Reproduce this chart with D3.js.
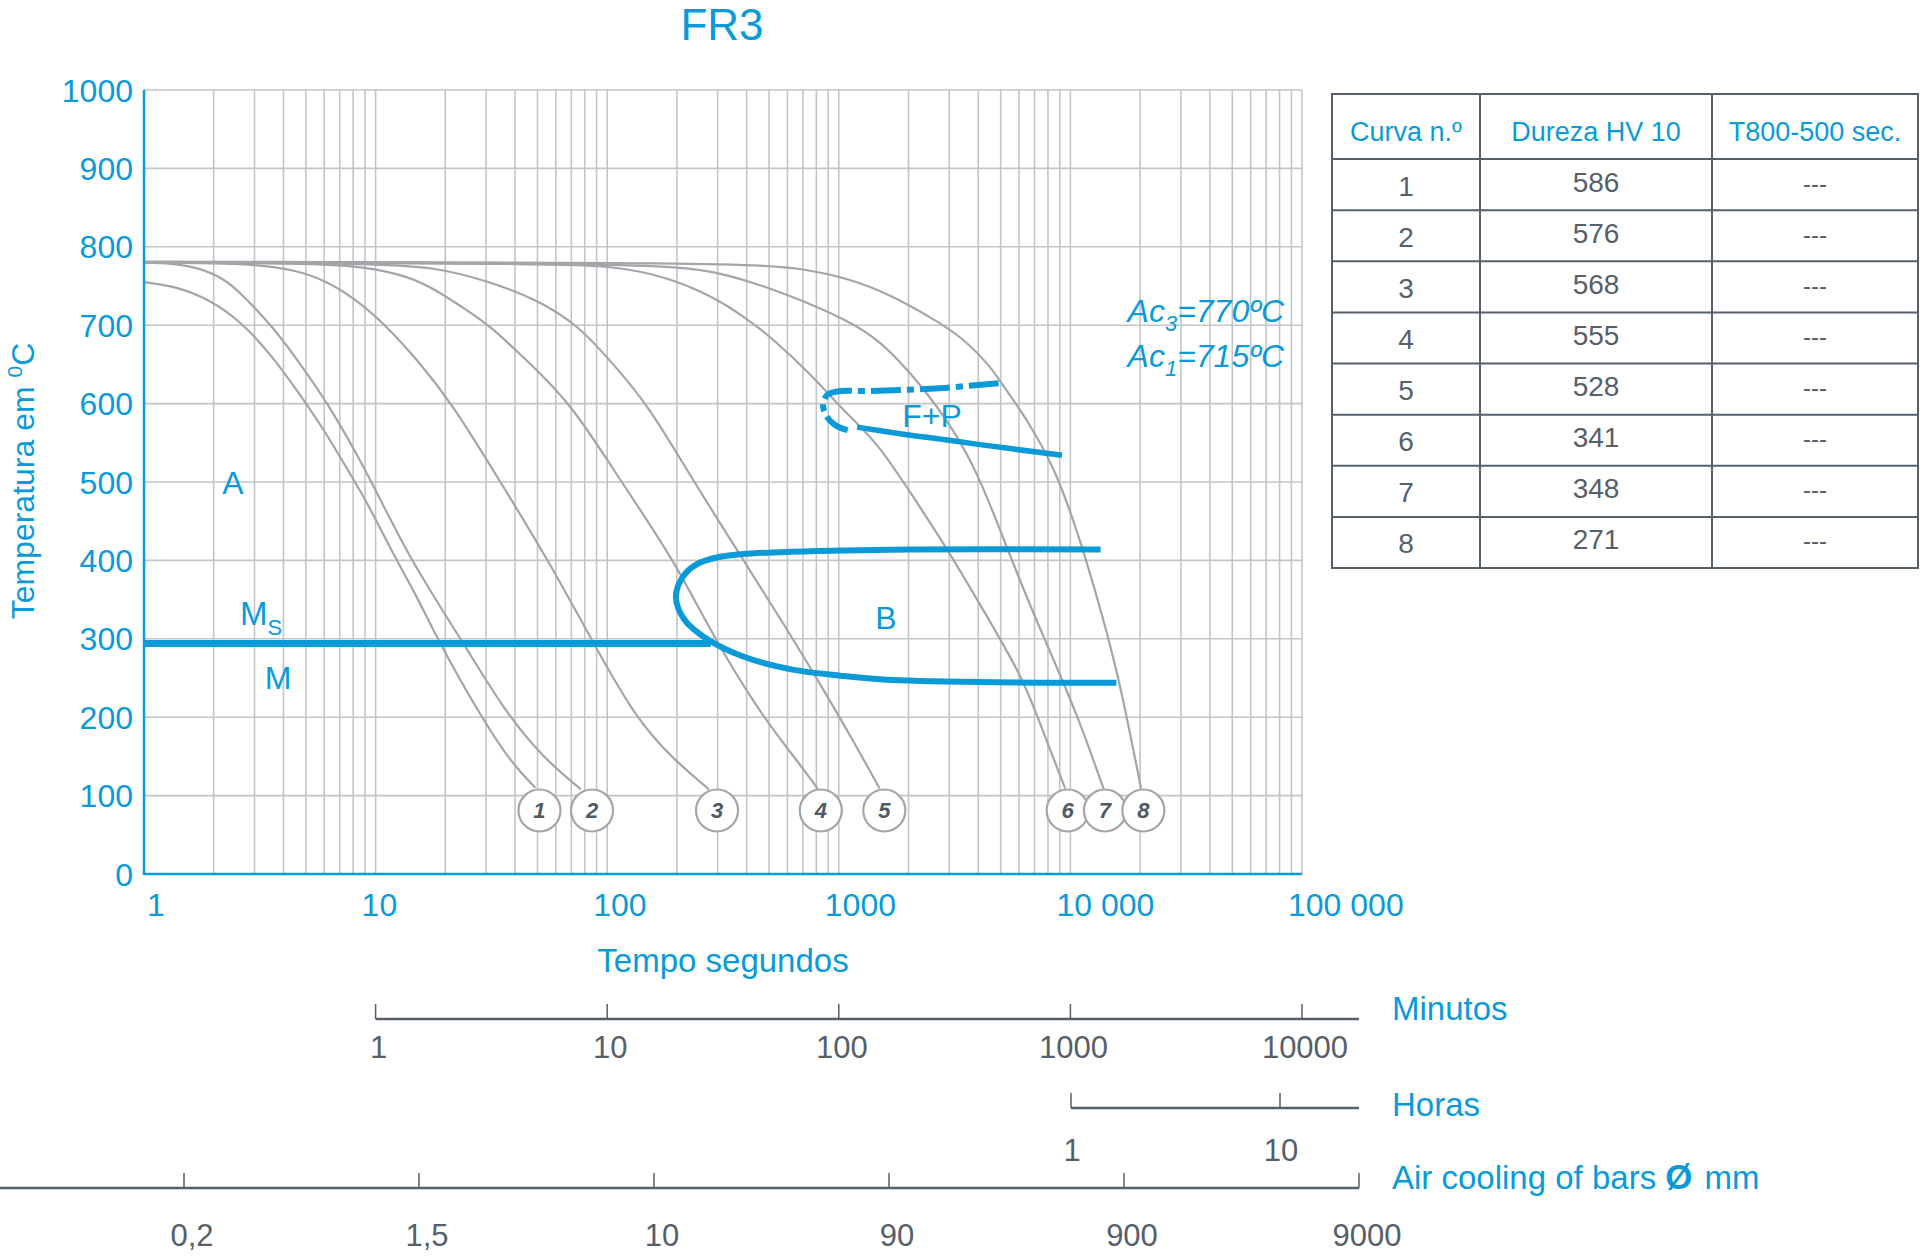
<!DOCTYPE html>
<meta charset="utf-8">
<style>
body { margin: 0; background: #fff; }
svg { font-family: "Liberation Sans", Arial, sans-serif; }
.blue { fill: #0a9ad8; }
.dark { fill: #55606a; }
</style>
<body>
<div id="chart"></div>
<script src="https://cdnjs.cloudflare.com/ajax/libs/d3/7.8.5/d3.min.js"></script>
<script>
// ---- data (time in s, temperature in °C) ----
var timeTicks = [1, 10, 100, 1000, 10000, 100000];
var timeTickLabels = ["1", "10", "100", "1000", "10 000", "100 000"];
var tempTicks = [0, 100, 200, 300, 400, 500, 600, 700, 800, 900, 1000];

var curve1 = [[1,755],[1.4,749],[1.9,733],[2.6,706],[3.6,660],[4.75,610],[6,566],[7.5,518],[9.4,469],[11.8,410],[14.9,357],[18.5,300],[24.4,235],[37,147],[49,110]];
var curve2 = [[1,780],[1.3,779],[1.7,774],[2.2,760],[2.6,742],[3.6,698],[4.75,650],[6.2,601],[9.2,513],[13.8,405],[23.9,295],[35.7,210],[52,150],[77,108]];
var curve3 = [[1,780],[2.8,779],[4.5,771],[6.2,756],[8.5,730],[11.5,695],[15.5,652],[21.4,600],[34.6,500],[55.7,400],[87,295],[132,200],[190,148],[275,108]];
var curve4 = [[1,780],[5,779],[9,775],[14,762],[18.2,745],[24,722],[31,700],[45,655],[70,600],[115,500],[195,400],[290,300],[470,200],[640,150],[810,109]];
var curve5 = [[1,780],[10,779],[18,774],[30,757],[49,734],[75,700],[105,652],[149,600],[237,500],[388,400],[590,315],[880,230],[1180,165],[1500,109]];
var curve6 = [[1,780],[60,779],[120,774],[201,757],[310,731],[427,702],[522,682],[765,636],[950,605],[1150,580],[1491,547],[2066,484],[2980,412],[4236,335],[6300,248],[7625,181],[9500,109]];
var curve7 = [[1,780],[150,779],[300,770],[621,738],[1076,707],[1500,682],[2300,622],[3160,565],[3970,511],[4990,438],[5870,384],[7630,303],[10570,208],[13900,109]];
var curve8 = [[1,781],[400,780],[700,772],[1100,760],[1700,738],[2489,710],[3373,686],[4500,648],[4990,628],[6700,574],[8420,520],[9910,466],[11660,402],[13740,330],[16180,249],[18420,168],[20200,109]];
var coolingCurves = [curve1, curve2, curve3, curve4, curve5, curve6, curve7, curve8];
var curveNumbers = [1, 2, 3, 4, 5, 6, 7, 8];
var markerTimes = [51, 86, 298, 836, 1572, 9730, 14100, 20650];
var markerTemp = 81;

var msTemp = 294;
var msEndTime = 280;
var bainiteCurve = [[13500,414],[2014,414],[622,411],[381,408],[300,404],[243,395],[212,379],[198,353],[216,324],[272,299],[381,278],[622,261],[1015,253],[1828,247],[15800,244]];
var fpStartCurve = [[4900,626],[2500,619],[1300,616],[1015,616],[900,612],[855,601],[880,585],[960,573],[1092,566]];
var fpEndCurve = [[1200,570],[1900,561],[2704,555],[4000,548],[9200,534]];

var hardness = [586, 576, 568, 555, 528, 341, 348, 271];
var t85 = ["---", "---", "---", "---", "---", "---", "---", "---"];
var tableHeader = ["Curva n.º", "Dureza HV 10", "T800-500 sec."];

var minuteTicks = [1, 10, 100, 1000, 10000];
var hourTicks = [1, 10];
var barLabels = ["0,2", "1,5", "10", "90", "900", "9000"];

// ---- layout ----
var W = 1920, H = 1256;
var blue = "#0a9ad8", gridC = "#c2c5c8", curveC = "#a2a6aa", darkC = "#55606a";

var svg = d3.select("#chart").append("svg")
  .attr("width", W).attr("height", H);

var x = d3.scaleLog().domain([1, 100000]).range([144, 1302]);
var y = d3.scaleLinear().domain([0, 1000]).range([874, 90]);

// grid
var vGrid = [];
for (var k = 0; k < 5; k++) {
  for (var m = 1; m < 10; m++) vGrid.push(m * Math.pow(10, k));
}
vGrid.push(100000);

var grid = svg.append("g");
grid.selectAll(".v").data(vGrid).enter().append("line")
  .attr("x1", function(d) { return x(d); }).attr("x2", function(d) { return x(d); })
  .attr("y1", y(0)).attr("y2", y(1000))
  .attr("stroke", gridC).attr("stroke-width", 1.6);
grid.selectAll(".h").data(tempTicks).enter().append("line")
  .attr("x1", x(1)).attr("x2", x(100000))
  .attr("y1", function(d) { return y(d); }).attr("y2", function(d) { return y(d); })
  .attr("stroke", gridC).attr("stroke-width", 1.6);

// cooling curves
var line = d3.line()
  .x(function(d) { return x(d[0]); })
  .y(function(d) { return y(d[1]); })
  .curve(d3.curveBasis);

svg.append("g").selectAll("path").data(coolingCurves).enter().append("path")
  .attr("d", line)
  .attr("fill", "none").attr("stroke", curveC).attr("stroke-width", 2.2);

// transformation lines
var smooth = d3.line()
  .x(function(d) { return x(d[0]); })
  .y(function(d) { return y(d[1]); })
  .curve(d3.curveCatmullRom.alpha(0.5));

svg.append("line")
  .attr("x1", x(1)).attr("x2", x(msEndTime))
  .attr("y1", y(msTemp)).attr("y2", y(msTemp))
  .attr("stroke", blue).attr("stroke-width", 7);

svg.append("path").attr("d", smooth(bainiteCurve))
  .attr("fill", "none").attr("stroke", blue).attr("stroke-width", 6);

svg.append("path").attr("d", smooth(fpStartCurve))
  .attr("fill", "none").attr("stroke", blue).attr("stroke-width", 6)
  .attr("stroke-dasharray", "30,6,7,6");

svg.append("path").attr("d", smooth(fpEndCurve))
  .attr("fill", "none").attr("stroke", blue).attr("stroke-width", 5.5);

// axes lines
svg.append("line").attr("x1", x(1)).attr("x2", x(1))
  .attr("y1", y(0) + 1).attr("y2", y(1000))
  .attr("stroke", blue).attr("stroke-width", 2.5);
svg.append("line").attr("x1", x(1)).attr("x2", x(100000))
  .attr("y1", y(0)).attr("y2", y(0))
  .attr("stroke", blue).attr("stroke-width", 2.5);

// curve markers
var mk = svg.append("g").selectAll("g").data(curveNumbers).enter().append("g")
  .attr("transform", function(d, i) { return "translate(" + x(markerTimes[i]) + "," + y(markerTemp) + ")"; });
mk.append("circle").attr("r", 21)
  .attr("fill", "#fff").attr("stroke", curveC).attr("stroke-width", 2.2);
mk.append("text").text(function(d) { return d; })
  .attr("text-anchor", "middle").attr("dy", "0.36em")
  .attr("font-size", 22).attr("font-weight", "bold").attr("font-style", "italic")
  .attr("fill", "#4f5a63");

// tick labels
svg.append("g").selectAll("text").data(tempTicks).enter().append("text")
  .attr("class", "blue")
  .attr("x", 133).attr("y", function(d) { return y(d); })
  .attr("dy", "0.36em").attr("text-anchor", "end")
  .attr("font-size", 32)
  .text(function(d) { return d; });

svg.append("g").selectAll("text").data(timeTicks).enter().append("text")
  .attr("class", "blue")
  .attr("x", function(d, i) { return x(d) + (i === 0 ? 3 : -14); })
  .attr("y", 916)
  .attr("font-size", 32)
  .text(function(d, i) { return timeTickLabels[i]; });

// titles
svg.append("text").attr("class", "blue")
  .attr("x", 722).attr("y", 40).attr("text-anchor", "middle")
  .attr("font-size", 44).text("FR3");

svg.append("text").attr("class", "blue")
  .attr("x", 723).attr("y", 972).attr("text-anchor", "middle")
  .attr("font-size", 33).text("Tempo segundos");

var yt = svg.append("text").attr("class", "blue")
  .attr("transform", "translate(34,481) rotate(-90)")
  .attr("text-anchor", "middle").attr("font-size", 32);
yt.append("tspan").text("Temperatura em ");
yt.append("tspan").attr("font-size", 21).attr("dy", -12).text("0");
yt.append("tspan").attr("dy", 12).text("C");

// region labels
function label(txt, px, py, size, anchor) {
  return svg.append("text").attr("class", "blue")
    .attr("x", px).attr("y", py).attr("font-size", size)
    .attr("text-anchor", anchor || "middle").text(txt);
}
label("A", 233, 494, 32);
var ms = svg.append("text").attr("class", "blue").attr("x", 240).attr("y", 625).attr("font-size", 33);
ms.append("tspan").text("M");
ms.append("tspan").attr("font-size", 22).attr("dy", 10).text("S");
label("M", 278, 689, 32);
label("B", 886, 629, 32);
label("F+P", 932, 427, 32);

function acText(sub, val, py) {
  var t = svg.append("text").attr("class", "blue")
    .attr("x", 1284).attr("y", py).attr("text-anchor", "end")
    .attr("font-size", 32).attr("font-style", "italic");
  t.append("tspan").text("Ac");
  t.append("tspan").attr("font-size", 22).attr("dy", 9).text(sub);
  t.append("tspan").attr("dy", -9).text("=" + val + "ºC");
}
acText("3", 770, 322);
acText("1", 715, 367);

// table
var colX = [1332, 1480, 1712, 1918];
var headTop = 94, headBot = 159, rowH = (568 - 159) / 8;
var tb = svg.append("g");
var rowYs = d3.range(9).map(function(i) { return headBot + i * rowH; });
tb.append("rect").attr("x", colX[0]).attr("y", headTop)
  .attr("width", colX[3] - colX[0]).attr("height", rowYs[8] - headTop)
  .attr("fill", "none").attr("stroke", darkC).attr("stroke-width", 2);
tb.selectAll(".rl").data(rowYs.slice(0, 8)).enter().append("line")
  .attr("x1", colX[0]).attr("x2", colX[3])
  .attr("y1", function(d) { return d; }).attr("y2", function(d) { return d; })
  .attr("stroke", darkC).attr("stroke-width", 2);
tb.selectAll(".cl").data(colX.slice(1, 3)).enter().append("line")
  .attr("x1", function(d) { return d; }).attr("x2", function(d) { return d; })
  .attr("y1", headTop).attr("y2", rowYs[8])
  .attr("stroke", darkC).attr("stroke-width", 2);
tb.selectAll(".hd").data(tableHeader).enter().append("text")
  .attr("class", "blue")
  .attr("x", function(d, i) { return (colX[i] + colX[i + 1]) / 2; })
  .attr("y", 141).attr("text-anchor", "middle").attr("font-size", 27)
  .text(function(d) { return d; });
var rows = tb.selectAll(".row").data(curveNumbers).enter().append("g");
rows.append("text").attr("class", "dark")
  .attr("x", (colX[0] + colX[1]) / 2)
  .attr("y", function(d, i) { return rowYs[i] + rowH / 2 + 11; })
  .attr("text-anchor", "middle").attr("font-size", 28)
  .text(function(d) { return d; });
rows.append("text").attr("class", "dark")
  .attr("x", (colX[1] + colX[2]) / 2)
  .attr("y", function(d, i) { return rowYs[i] + rowH / 2 + 7; })
  .attr("text-anchor", "middle").attr("font-size", 28)
  .text(function(d, i) { return hardness[i]; });
rows.append("text").attr("class", "dark")
  .attr("x", (colX[2] + colX[3]) / 2)
  .attr("y", function(d, i) { return rowYs[i] + rowH / 2 + 7; })
  .attr("text-anchor", "middle").attr("font-size", 24)
  .text(function(d, i) { return t85[i]; });

// secondary scales
var axisEnd = 1359;
var xMin = d3.scaleLog().domain([1, 10000]).range([x(10), x(100000)]);
var xHour = d3.scaleLog().domain([1, 10]).range([1071, 1280]);
var xBar = d3.scalePoint().domain(barLabels).range([184, axisEnd]);

function scaleRow(ticks, sc, lineY, x0, labelY, dx) {
  var g = svg.append("g");
  g.append("line").attr("x1", x0).attr("x2", axisEnd)
    .attr("y1", lineY).attr("y2", lineY)
    .attr("stroke", darkC).attr("stroke-width", 2.5);
  g.selectAll(".t").data(ticks).enter().append("line")
    .attr("x1", function(d) { return sc(d); }).attr("x2", function(d) { return sc(d); })
    .attr("y1", lineY - 15).attr("y2", lineY)
    .attr("stroke", darkC).attr("stroke-width", 1.5);
  g.selectAll(".l").data(ticks).enter().append("text")
    .attr("class", "dark")
    .attr("x", function(d) { return sc(d) + dx; }).attr("y", labelY)
    .attr("text-anchor", "middle").attr("font-size", 31)
    .text(function(d) { return d; });
}
scaleRow(minuteTicks, xMin, 1019, xMin(1), 1058, 3);
scaleRow(hourTicks, xHour, 1108, xHour(1), 1161, 1);
scaleRow(barLabels, xBar, 1188, 0, 1246, 8);

label("Minutos", 1392, 1020, 33, "start");
label("Horas", 1392, 1116, 33, "start");
var air = label("Air cooling of bars ", 1392, 1189, 33, "start");
air.append("tspan").attr("font-weight", "bold").attr("font-size", 35).text("Ø");
air.append("tspan").attr("dx", 12).text("mm");
</script>
</body>
